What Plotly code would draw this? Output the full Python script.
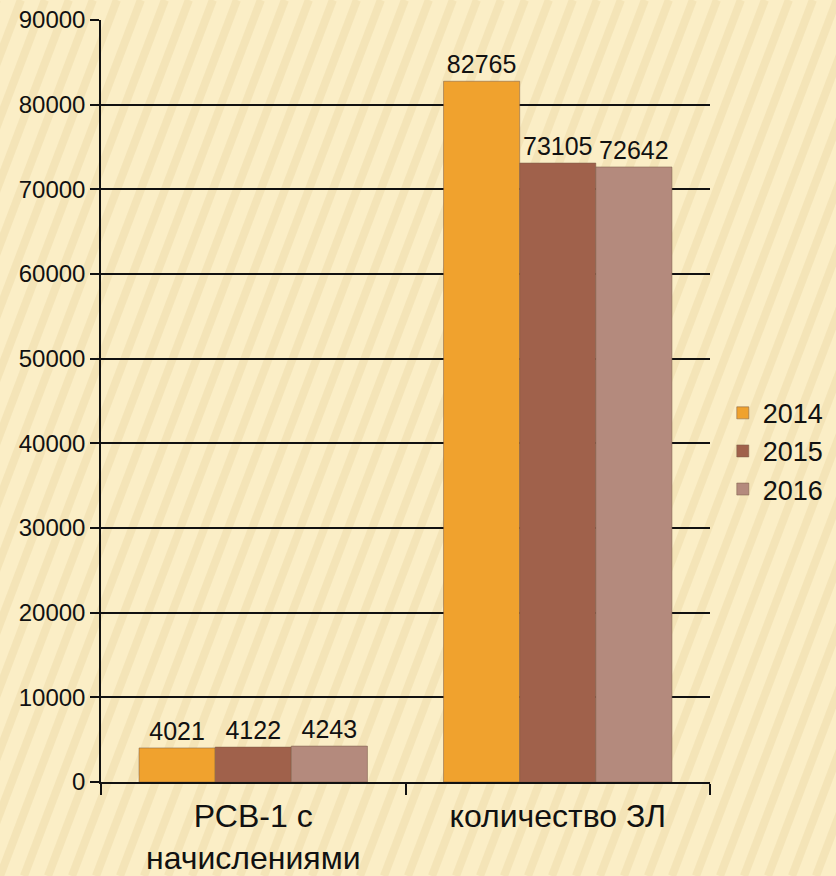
import plotly.graph_objects as go

categories = ["РСВ-1 с<br>начислениями", "количество ЗЛ"]
years = ["2014", "2015", "2016"]
values_2014 = [4021, 82765]
values_2015 = [4122, 73105]
values_2016 = [4243, 72642]
colors = ["#F0A22E", "#A0614B", "#B48A7D"]

W, H = 836, 876
L, R, T, B = 101, 126, 20, 94

fig = go.Figure()
for name, vals, col in zip(years, [values_2014, values_2015, values_2016], colors):
    fig.add_trace(go.Bar(
        x=categories, y=vals, name=name,
        marker=dict(color=col, line=dict(color="rgba(120,90,70,0.5)", width=1)),
        text=[str(v) for v in vals], textposition="outside",
        constraintext="none",
        textfont=dict(family="Liberation Sans, Arial", size=25, color="#111"),
        cliponaxis=False,
    ))

# decorative diagonal stripes (background texture)
shapes = []
pw, ph = W - L - R, H - T - B
for i in range(-20, 60):
    x0px = i * 24
    x1px = x0px + 0.38 * H
    shapes.append(dict(
        type="line", layer="below",
        xref="paper", yref="paper",
        x0=(x0px - L) / pw, y0=(H - B - H) / ph,
        x1=(x1px - L) / pw, y1=(H - B) / ph,
        line=dict(color="rgba(225,200,140,0.25)", width=8),
    ))

fig.update_layout(
    width=W, height=H,
    margin=dict(l=L, r=R, t=T, b=B, autoexpand=False),
    paper_bgcolor="#FBEEC6",
    plot_bgcolor="rgba(0,0,0,0)",
    barmode="group",
    bargap=0.25,
    bargroupgap=0,
    shapes=shapes,
    font=dict(family="Liberation Sans, Arial", color="#111"),
    legend=dict(
        x=1.021, y=0.434, xanchor="left", yanchor="middle",
        font=dict(size=27, color="#111"),
        bgcolor="rgba(0,0,0,0)",
        itemwidth=30, tracegroupgap=0,
    ),
    showlegend=True,
)
fig.update_yaxes(
    range=[0, 90000], dtick=10000, tickformat="d",
    showgrid=True, gridcolor="#111", gridwidth=1.5,
    showline=True, linecolor="#111", linewidth=1.5,
    ticks="outside", ticklen=9, tickcolor="#111", tickwidth=1.5,
    tickfont=dict(size=24, color="#111"),
    zeroline=False,
)
fig.update_xaxes(
    showline=True, linecolor="#111", linewidth=1.5,
    ticks="outside", tickson="boundaries", ticklen=11, tickcolor="#111", tickwidth=1.5,
    tickfont=dict(size=32, color="#111"),
    ticklabelstandoff=5,
    showgrid=False,
)
fig.write_html(
    "out.html",
    config={"displayModeBar": False},
    post_script="document.body.style.margin='0';document.body.style.overflow='hidden';",
)
